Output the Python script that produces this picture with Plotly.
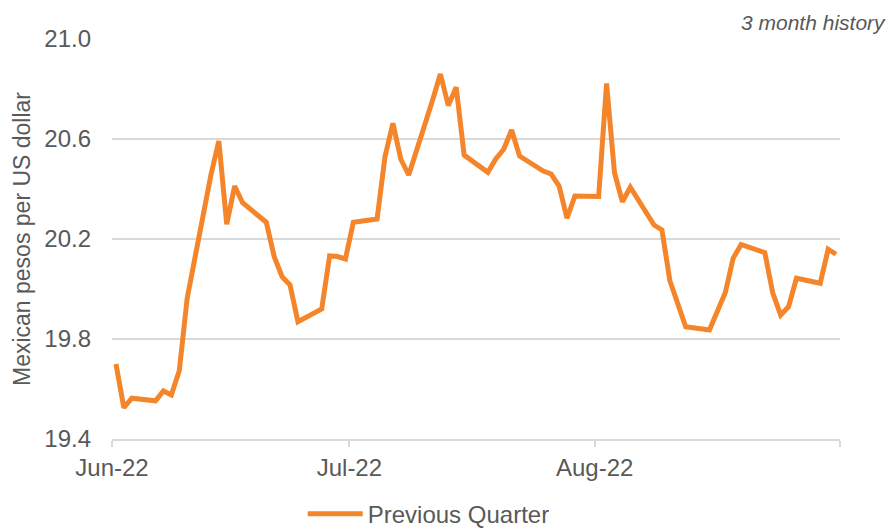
import plotly.graph_objects as go

dates = [
    "2022-06-01", "2022-06-02", "2022-06-03", "2022-06-06", "2022-06-07", "2022-06-08",
    "2022-06-09", "2022-06-10", "2022-06-13", "2022-06-14", "2022-06-15", "2022-06-16",
    "2022-06-17", "2022-06-20", "2022-06-21", "2022-06-22", "2022-06-23", "2022-06-24",
    "2022-06-27", "2022-06-28", "2022-06-29", "2022-06-30",
    "2022-07-01", "2022-07-04", "2022-07-05", "2022-07-06", "2022-07-07", "2022-07-08",
    "2022-07-11", "2022-07-12", "2022-07-13", "2022-07-14", "2022-07-15", "2022-07-18",
    "2022-07-19", "2022-07-20", "2022-07-21", "2022-07-22", "2022-07-25", "2022-07-26",
    "2022-07-27", "2022-07-28", "2022-07-29",
    "2022-08-01", "2022-08-02", "2022-08-03", "2022-08-04", "2022-08-05", "2022-08-08",
    "2022-08-09", "2022-08-10", "2022-08-11", "2022-08-12", "2022-08-15", "2022-08-16",
    "2022-08-17", "2022-08-18", "2022-08-19", "2022-08-22", "2022-08-23", "2022-08-24",
    "2022-08-25", "2022-08-26", "2022-08-29", "2022-08-30", "2022-08-31",
]

previous_quarter = [
    19.700, 19.525, 19.563, 19.553, 19.592, 19.576,
    19.673, 19.963, 20.456, 20.592, 20.259, 20.412,
    20.345, 20.267, 20.129, 20.049, 20.016, 19.869,
    19.920, 20.132, 20.130, 20.120,
    20.267, 20.280, 20.529, 20.663, 20.519, 20.456,
    20.754, 20.860, 20.734, 20.807, 20.536, 20.467,
    20.520, 20.559, 20.636, 20.532, 20.472, 20.460,
    20.412, 20.283, 20.372,
    20.370, 20.822, 20.465, 20.349, 20.407, 20.256,
    20.236, 20.033, 19.943, 19.849, 19.836, 19.905,
    19.985, 20.123, 20.178, 20.145, 19.985, 19.896,
    19.929, 20.043, 20.023, 20.159, 20.139,
]

tick_dates = ["2022-06-01", "2022-07-01", "2022-08-01", "2022-09-01"]
tick_labels = ["Jun-22", "Jul-22", "Aug-22", ""]

y_ticks = [19.4, 19.8, 20.2, 20.6, 21.0]

# Excel-style "between tick marks": each day plotted at mid-day
x_vals = [d + " 12:00" for d in dates]

TEXT = "#595959"
GRID = "#d9d9d9"
FONT = "Liberation Sans, Arial, sans-serif"

fig = go.Figure()
fig.add_trace(go.Scatter(
    x=x_vals, y=previous_quarter, mode="lines", name="Previous Quarter",
    line=dict(color="#F5852A", width=5, shape="linear"),
))

fig.update_layout(
    width=894, height=528,
    margin=dict(l=112, r=54, t=39, b=89, autoexpand=False),
    paper_bgcolor="white", plot_bgcolor="white",
    font=dict(family=FONT, color=TEXT, size=22),
    showlegend=True,
    legend=dict(
        orientation="h", x=0.262, xanchor="left",
        yref="container", y=0.026, yanchor="middle",
        font=dict(size=24, color=TEXT), itemwidth=55,
        bgcolor="rgba(0,0,0,0)",
    ),
    xaxis=dict(
        type="date", range=["2022-06-01", "2022-09-01"],
        tickvals=tick_dates, ticktext=tick_labels,
        showgrid=False, zeroline=False,
        showline=True, linecolor=GRID, linewidth=1.5,
        ticks="outside", ticklen=6, tickcolor=GRID, tickwidth=1.5,
        tickfont=dict(size=24, color=TEXT), ticklabelstandoff=0,
    ),
    yaxis=dict(
        range=[19.4, 21.0], tickvals=y_ticks, tickformat=".1f",
        showgrid=True, gridcolor=GRID, gridwidth=1.5,
        zeroline=False, showline=False, ticks="",
        tickfont=dict(size=24, color=TEXT), ticklabelstandoff=20,
    ),
    annotations=[
        dict(text="Mexican pesos per US dollar", textangle=-90,
             xref="paper", yref="paper", x=0, y=0.5, xshift=-90,
             xanchor="center", yanchor="middle", showarrow=False,
             font=dict(size=23, color=TEXT, family=FONT)),
        dict(text="<i>3 month history</i>",
             xref="paper", yref="paper", x=1, y=1, xshift=48, yshift=17,
             xanchor="right", yanchor="middle", showarrow=False,
             font=dict(size=21, color=TEXT, family=FONT)),
    ],
)

fig.write_html("out.html", config={"displayModeBar": False},
               post_script="document.body.style.margin='0';")
